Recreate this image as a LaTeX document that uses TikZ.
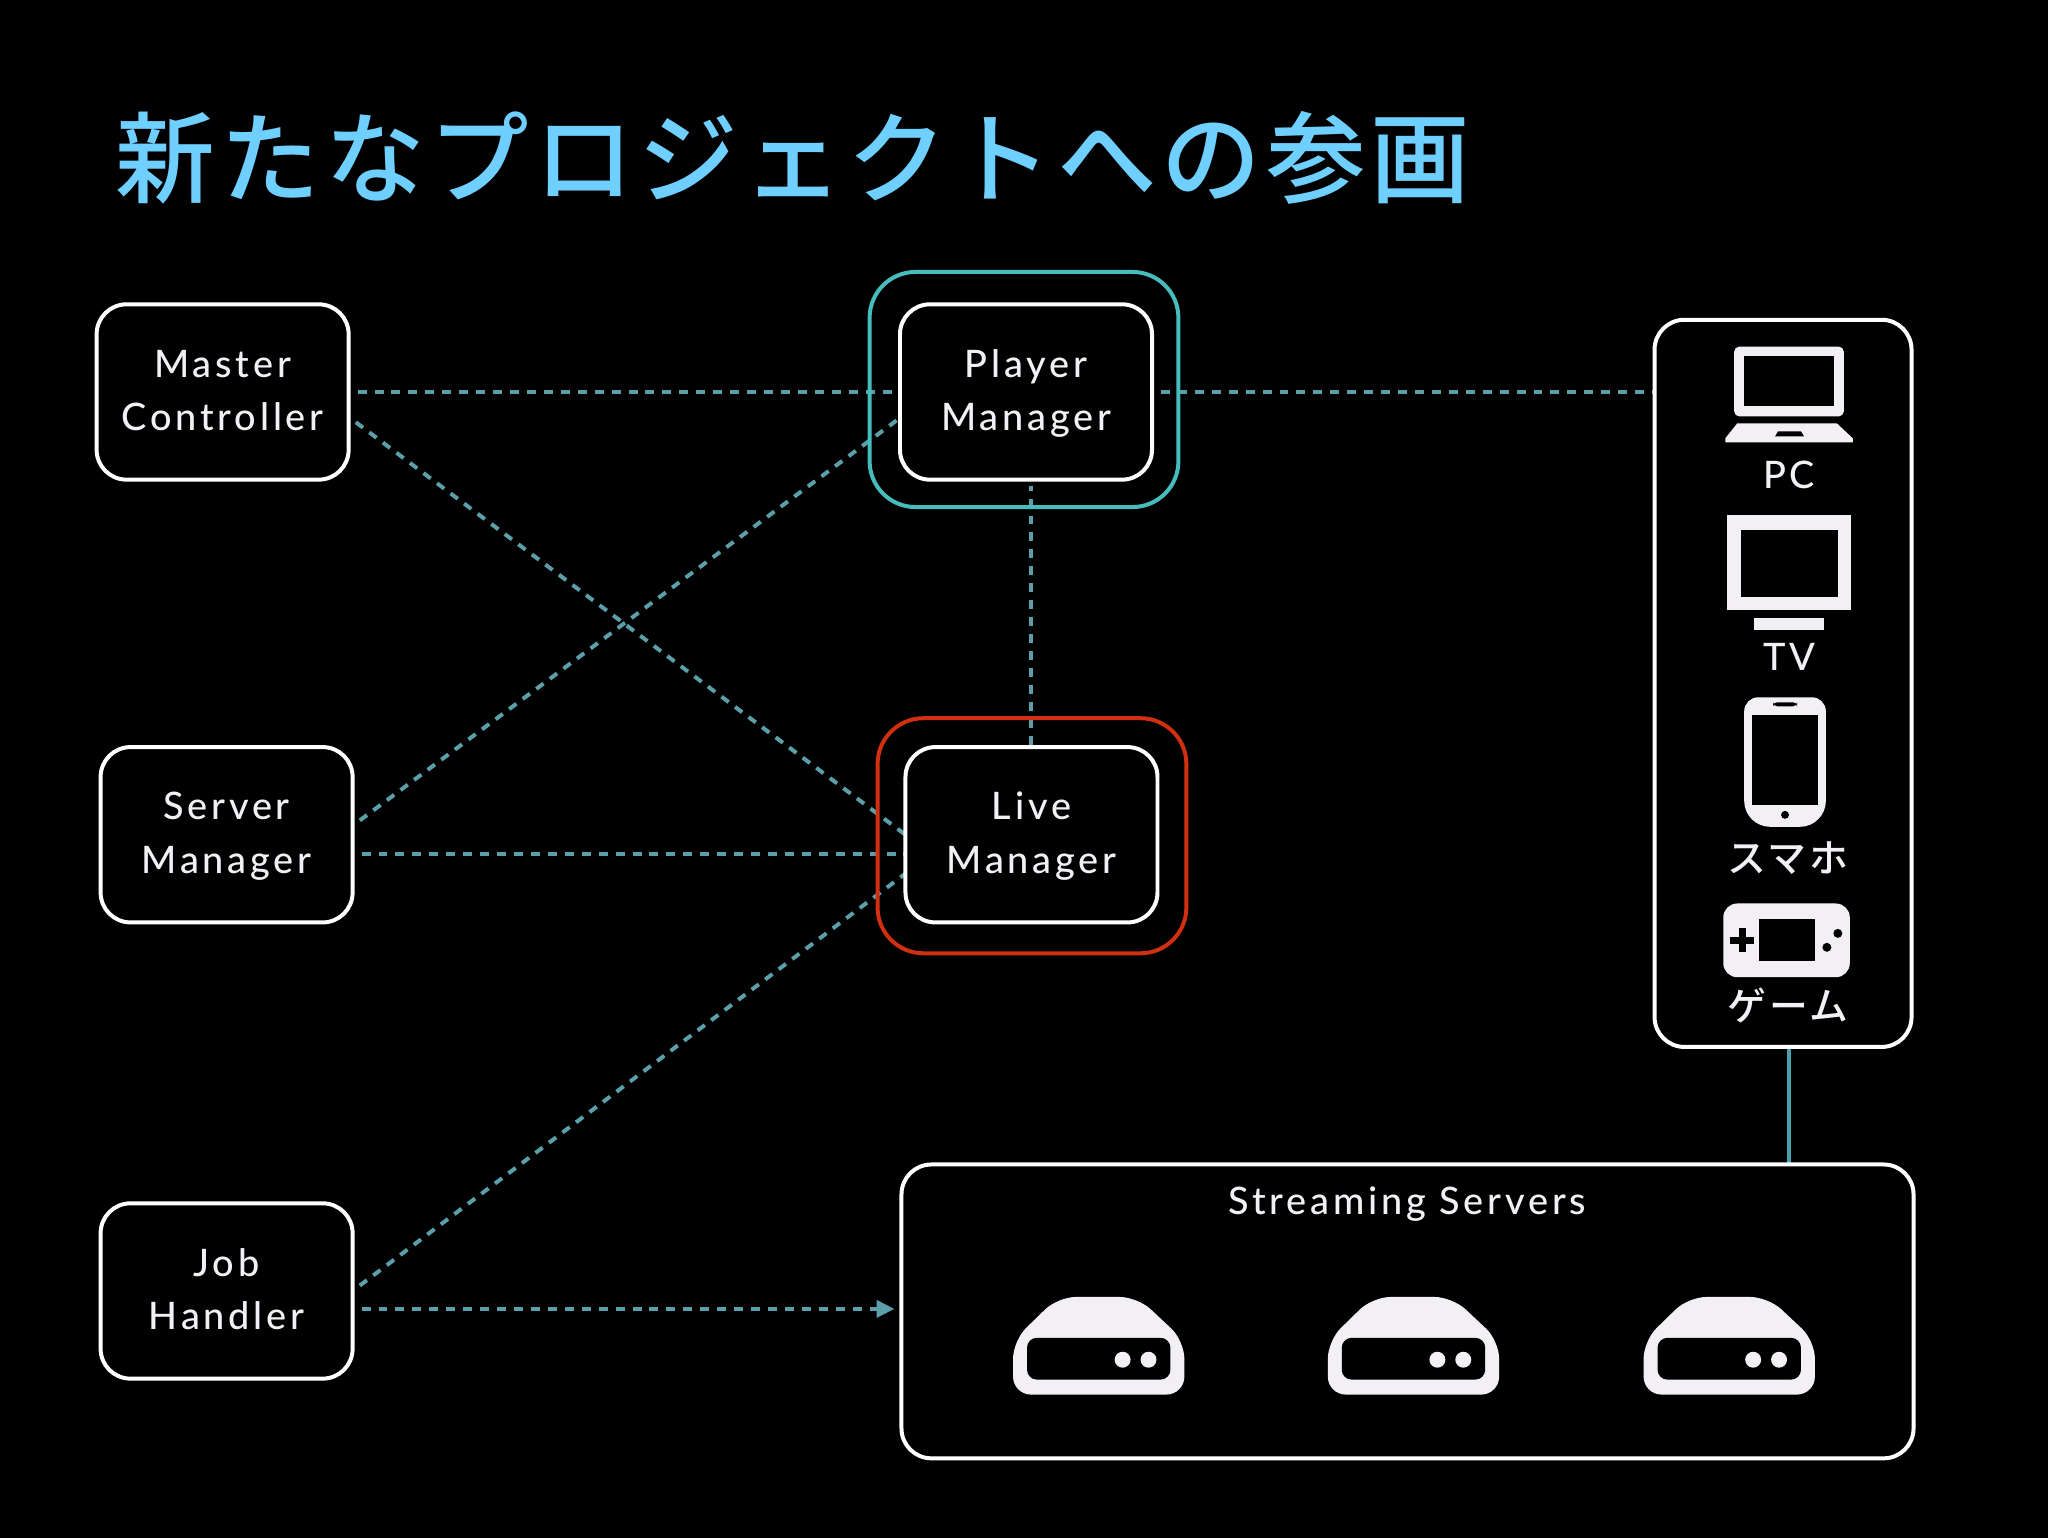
\documentclass[tikz,border=0pt]{standalone}
\usepackage{fontspec}
\usetikzlibrary{arrows.meta}
\setmainfont{Lato Medium}[LetterSpace=10]
\newfontfamily\jpfont{Noto Sans CJK JP Medium}[LetterSpace=7]
\newfontfamily\titlefont{Noto Sans CJK JP Medium}[LetterSpace=5]
\definecolor{ink}{HTML}{F2F0F5}
\definecolor{teal}{HTML}{5A9FAA}
\definecolor{solidteal}{HTML}{4A9FAE}
\definecolor{titleblue}{HTML}{6FD0FF}
\definecolor{halocyan}{HTML}{46BDBD}
\definecolor{halored}{HTML}{D03010}
\pgfdeclarelayer{bg}
\pgfdeclarelayer{conn}
\pgfsetlayers{bg,conn,main}
\newcommand{\twolines}[2]{\rule{0pt}{18pt}#1\\#2\rule[-6pt]{0pt}{6pt}}
\tikzset{
  box/.style={draw=white,line width=2pt,rounded corners=15pt,minimum width=126.5pt,minimum height=88pt,inner sep=0pt,outer sep=0pt,align=center,text=ink,font=\fontsize{19}{27}\selectfont},
  halo/.style={line width=2pt,rounded corners=23pt,minimum width=155pt,minimum height=118pt,inner sep=0pt,outer sep=0pt},
  frame/.style={draw=white,line width=2pt,rounded corners=15pt,inner sep=0pt,outer sep=0pt},
  label/.style={text=ink,anchor=base,inner sep=0pt,font=\fontsize{19}{27}\selectfont},
  jplabel/.style={text=ink,anchor=center,inner sep=0pt,font=\fontsize{19.5}{27}\selectfont\jpfont},
  link/.style={draw=teal,line width=2pt,dash pattern=on 4.5pt off 4pt,shorten <=4.5pt},
  solidlink/.style={draw=solidteal,line width=2pt},
  icon/.style={fill=ink,even odd rule}
}
\newcommand{\drivepic}[1]{%
  \begin{scope}[xshift=#1*0.5pt]
    \fill[icon,rounded corners=9pt] (1013,1396) -- (1013,1342) -- (1058,1298) -- (1138,1298) -- (1185,1342) -- (1185,1396) -- cycle;
    \fill[black,rounded corners=5pt] (1027,1339) rectangle (1171,1381);
    \fill[ink] (1123,1361) circle[radius=8] (1149,1361) circle[radius=8];
  \end{scope}}
\begin{document}
\begin{tikzpicture}[x=0.5pt,y=-0.5pt]
\begin{pgfonlayer}{bg}
  \fill[black] (-4,-4) rectangle (2052,1540);
\end{pgfonlayer}
\useasboundingbox (0,0) rectangle (2048,1536);

\node[anchor=base west,inner sep=0pt,text=titleblue,font=\fontsize{50}{60}\selectfont\titlefont] (title) at (112,192) {新たなプロジェクトへの参画};

\node[box] (mc) at (219.5,389.5) {\twolines{Master}{Controller}};
\node[box] (pm) at (1026,389.5) {\twolines{Player}{Manager}};
\node[box] (sm) at (223.5,834) {\twolines{Server}{Manager}};
\node[box] (lm) at (1031.5,834) {\twolines{Live}{Manager}};
\node[box] (jh) at (223.5,1292) {\twolines{Job}{Handler}};
\node[halo,draw=halocyan] (pmhalo) at (1024,387) {};
\node[halo,draw=halored] (lmhalo) at (1032,835) {};
\node[frame,minimum width=129pt,minimum height=365pt] (dev) at (1786,682) {};
\node[frame,minimum width=508pt,minimum height=147.5pt] (ss) at (1409,1312.5) {};
\node[label] (sslabel) at (1409,1215) {Streaming Servers};

\begin{pgfonlayer}{conn}
  \draw[link] (mc.east) -- (pm.west);
  \draw[link] ([yshift=-12.5pt]mc.east) -- ([yshift=0pt]lm.west);
  \draw[link] ([yshift=4.5pt]sm.east) -- ([yshift=-13pt]pm.west);
  \draw[link] ([yshift=-9.5pt]sm.east) -- ([yshift=-9.5pt]lm.west);
  \draw[link] (jh.east) -- ([yshift=-19.5pt]lm.west);
  \draw[link,shorten >=3.5pt,-{Triangle[length=9pt,width=8.5pt]}] ([yshift=-9pt]jh.east) -- ([yshift=1.25pt]ss.west);
  \draw[link,shorten <=3pt,dash phase=2pt] (lm.north |- pm.south) -- (lm.north);
  \draw[link,shorten >=1pt] (pm.east) -- (pm.east -| dev.west);
  \draw[solidlink] (dev.south -| 1792,0) -- (ss.north -| 1792,0);
\end{pgfonlayer}

% PC
\fill[icon,rounded corners=2.5pt] (1737,344) rectangle (1847,414);
\fill[black] (1747,353) rectangle (1837,404);
\fill[ink] (1740,421) -- (1840,421) -- (1856,436) -- (1856,440) -- (1728,440) -- (1728,436) -- cycle;
\fill[black] (1781,429) -- (1804,429) -- (1807,434) -- (1778,434) -- cycle;
\node[label] (pc) at (1792,486) {PC};
% TV
\fill[ink] (1730,513) rectangle (1854,608);
\fill[black] (1744,528) rectangle (1841,595);
\fill[ink] (1757,616) rectangle (1827,628);
\node[label] (tv) at (1792,669) {TV};
% Phone
\fill[ink] (1788,696) [rounded corners=7pt] -- (1829,696) [rounded corners=13pt] -- (1829,826) -- (1747,826) [rounded corners=7pt] -- (1747,696) [sharp corners] -- cycle;
\fill[black] (1755,714) rectangle (1821,804);
\fill[black,rounded corners=2pt] (1776,701) rectangle (1800,705);
\fill[black] (1788,814) circle[radius=4];
\node[jplabel] (phone) at (1791,857) {スマホ};
% Game
\fill[ink,rounded corners=7pt] (1726,903) rectangle (1853,977);
\fill[black] (1762,919) rectangle (1818,961);
\fill[black] (1733,936.5) rectangle (1757,943.5);
\fill[black] (1741.5,928) rectangle (1748.5,952);
\fill[black] (1841,933) circle[radius=4.5] (1830,947) circle[radius=4.5];
\node[jplabel] (game) at (1791,1005) {ゲーム};
% Drives
\drivepic{0}
\drivepic{316}
\drivepic{633}
\end{tikzpicture}
\end{document}
